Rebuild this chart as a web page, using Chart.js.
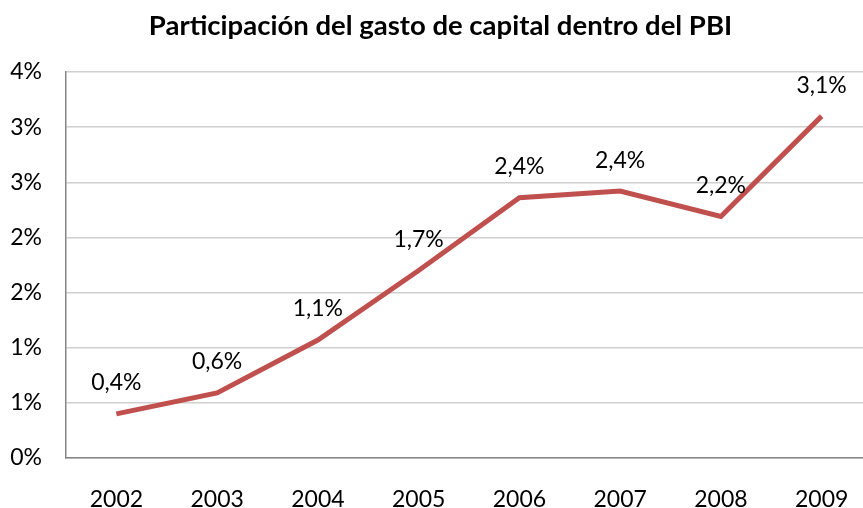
<!doctype html>
<html>

<head>
    <title>Gasto de capital</title>
    <script src="https://cdn.jsdelivr.net/npm/chart.js@4.4.1/dist/chart.umd.min.js"></script>
    <style>
        body {
            margin: 0;
            background: #fff;
        }

        .canvas-container {
            width: 863px;
            height: 508px;
        }
    </style>
</head>

<body>
    <div class='canvas-container'>
        <canvas id="canvas"></canvas>
    </div>
    <script>
        let anios = ["2002", "2003", "2004", "2005", "2006", "2007", "2008", "2009"];
        let porcentajes = [0.40, 0.59, 1.07, 1.70, 2.36, 2.42, 2.19, 3.10];
        let etiquetas = ["0,4%", "0,6%", "1,1%", "1,7%", "2,4%", "2,4%", "2,2%", "3,1%"];

        let fuente = "Lato, 'Open Sans', sans-serif";

        // etiquetas de datos encima de cada punto
        let etiquetasPlugin = {
            id: 'etiquetas',
            afterDatasetsDraw(chart) {
                let ctx = chart.ctx;
                let meta = chart.getDatasetMeta(0);
                ctx.save();
                ctx.font = "23px " + fuente;
                ctx.fillStyle = "#000";
                ctx.textAlign = "center";
                ctx.textBaseline = "middle";
                meta.data.forEach((p, i) => {
                    ctx.fillText(etiquetas[i], p.x, p.y - 31);
                });
                ctx.restore();
            }
        };

        // el grafico original esta recortado a la derecha: el eje x sigue un poco fuera del lienzo
        let recortePlugin = {
            id: 'recorte',
            afterLayout(chart) {
                let x = chart.scales.x;
                x.right = x.right + 9;
                x.width = x.right - x.left;
                x.configure();
            }
        };

        let ctx = document.getElementById('canvas').getContext('2d');
        window.myLine = new Chart(ctx, {
            type: 'line',
            data: {
                labels: anios,
                datasets: [{
                    label: 'PBI',
                    data: porcentajes,
                    borderColor: "#C0504D",
                    borderWidth: 5,
                    pointRadius: 0,
                    tension: 0,
                    fill: false
                }]
            },
            options: {
                responsive: true,
                maintainAspectRatio: false,
                animation: false,
                layout: {
                    padding: { left: 10, right: -8, top: 0, bottom: 0 }
                },
                plugins: {
                    legend: { display: false },
                    tooltip: { enabled: false },
                    title: {
                        display: true,
                        text: 'Participación del gasto de capital dentro del PBI',
                        color: '#000',
                        font: { family: fuente, size: 27.5, weight: 'bold' },
                        padding: { top: 10, bottom: 29 }
                    }
                },
                scales: {
                    x: {
                        offset: true,
                        grid: { display: false, drawTicks: false },
                        border: { color: '#868686', width: 1.5 },
                        ticks: {
                            color: '#000',
                            font: { family: fuente, size: 23, lineHeight: 0.8 },
                            padding: 32
                        },
                        afterFit: s => {
                            s.height = 50;
                            s.paddingLeft = 0;
                            s.paddingRight = 0;
                        }
                    },
                    y: {
                        min: 0,
                        max: 3.5,
                        grid: { color: '#D0D0D0', lineWidth: 1.5, drawTicks: false },
                        border: { color: '#868686', width: 1.5 },
                        ticks: {
                            stepSize: 0.5,
                            color: '#000',
                            font: { family: fuente, size: 23 },
                            padding: 24,
                            callback: v => Math.round(v) + '%'
                        },
                        afterFit: s => {
                            s.width = 56;
                        }
                    }
                }
            },
            plugins: [etiquetasPlugin, recortePlugin]
        });
    </script>
</body>

</html>
